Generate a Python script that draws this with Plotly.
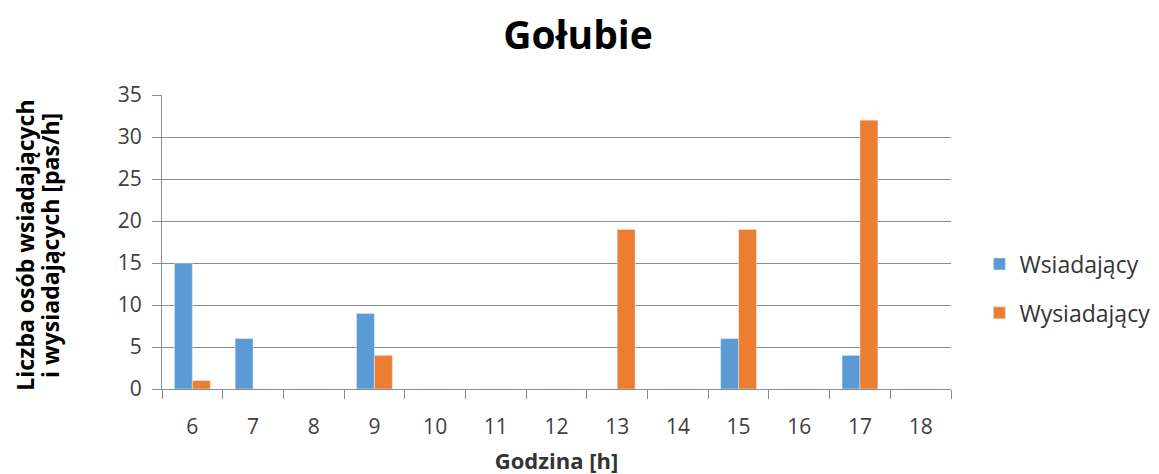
import plotly.graph_objects as go

hours = ["6", "7", "8", "9", "10", "11", "12", "13", "14", "15", "16", "17", "18"]
wsiadajacy = [15, 6, 0, 9, 0, 0, 0, 0, 0, 6, 0, 4, 0]
wysiadajacy = [1, 0, 0, 4, 0, 0, 0, 19, 0, 19, 0, 32, 0]
y_title_lines = ["Liczba osób wsiadających", "i wysiadających [pas/h]"]

FONT = "Open Sans, Liberation Sans, sans-serif"
GRID = "#8c8c8c"
TXT = "#404040"

fig = go.Figure()
fig.add_trace(go.Bar(x=hours, y=wsiadajacy, name="Wsiadający",
                     marker=dict(color="#5b9bd5"), legendgroup="a"))
fig.add_trace(go.Bar(x=hours, y=wysiadajacy, name="Wysiadający",
                     marker=dict(color="#ed7d31"), legendgroup="b"))

for xpos, line in zip([-0.174, -0.142], y_title_lines):
    fig.add_annotation(text=f"<b>{line}</b>", textangle=-90, xref="paper", yref="paper",
                       x=xpos, y=0.49, xanchor="center", yanchor="middle",
                       showarrow=False, font=dict(family=FONT, size=23, color="black"))

fig.update_layout(
    width=1159, height=474,
    margin=dict(l=154, r=209, t=87, b=93),
    paper_bgcolor="white", plot_bgcolor="white",
    barmode="group", bargap=0.41, bargroupgap=0,
    title=dict(text="<b>Gołubie</b>", xref="container", x=0.4918, xanchor="center",
               yref="container", y=0.943, yanchor="middle",
               font=dict(family=FONT, size=39, color="black")),
    font=dict(family=FONT, size=21, color=TXT),
    legend=dict(x=1.036, y=0.342, xanchor="left", yanchor="middle",
                font=dict(size=23, color="#333333"), tracegroupgap=16,
                traceorder="grouped"),
    xaxis=dict(type="category", categoryorder="array", categoryarray=hours,
               showline=True, linecolor=GRID, linewidth=1,
               ticks="outside", tickson="boundaries", ticklen=9, tickcolor=GRID,
               ticklabelstandoff=19,
               title=dict(text="<b>Godzina [h]</b>", font=dict(size=22, color="#333333"), standoff=14),
               tickfont=dict(size=21, color=TXT)),
    yaxis=dict(range=[0, 35], dtick=5, showgrid=True, gridcolor=GRID, gridwidth=1,
               showline=True, linecolor=GRID, linewidth=1,
               ticks="outside", ticklen=9, tickcolor=GRID, zeroline=False,
               ticklabelstandoff=6,
               tickfont=dict(size=21, color=TXT)),
)

fig.write_html("out.html")
